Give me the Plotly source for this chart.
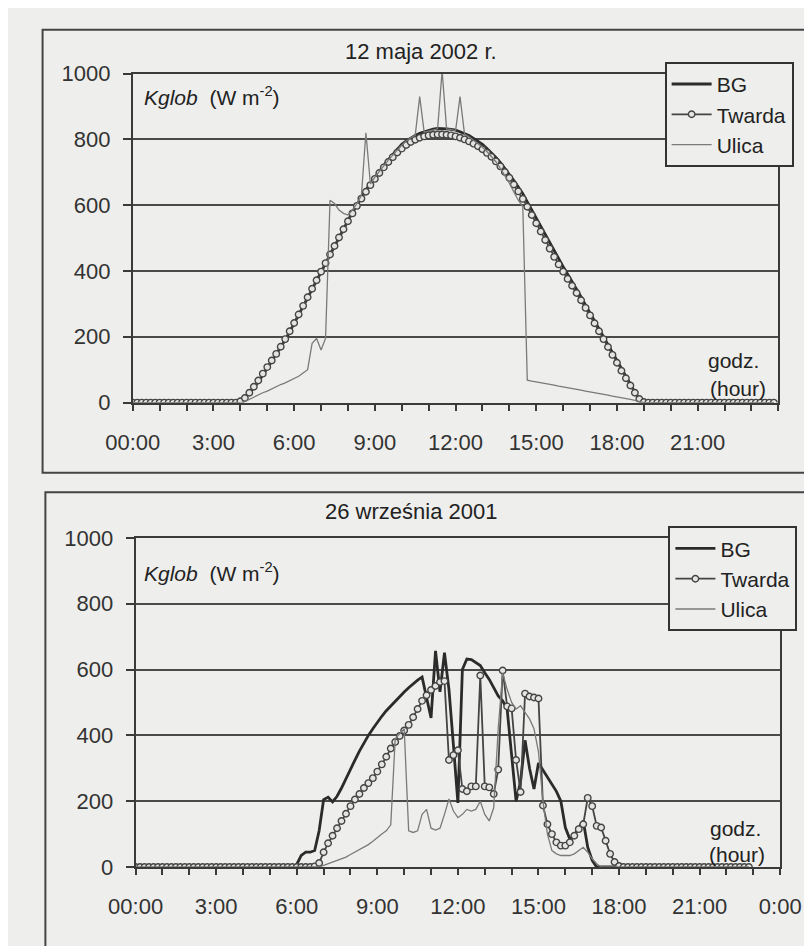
import plotly.graph_objects as go

# 10-minute time stamps (hours) for one day
times = [i / 6 for i in range(144)]

# ---- Panel 1: 12 maja 2002 r. ----
top_bg = [
    0, 0, 0, 0, 0, 0, 0, 0, 0, 0, 0, 0,
    0, 0, 0, 0, 0, 0, 0, 0, 0, 0, 0, 0,
    6, 16, 30, 45, 63, 84,
    105, 125, 145, 166, 190, 215,
    240, 266, 292, 318, 345, 371,
    398, 425, 451, 478, 504, 530,
    555, 579, 602, 625, 646, 666,
    685, 703, 721, 738, 754, 770,
    785, 795, 804, 812, 818, 823,
    828, 831, 833, 833, 832, 830,
    828, 823, 818, 812, 803, 794,
    785, 772, 759, 745, 729, 712,
    695, 675, 655, 635, 610, 585,
    560, 535, 510, 485, 461, 437,
    413, 390, 368, 345, 321, 296,
    272, 247, 223, 198, 174, 149,
    125, 101, 78, 55, 32, 10,
    0, 0, 0, 0, 0, 0,
    0, 0, 0, 0, 0, 0,
    0, 0, 0, 0, 0, 0,
    0, 0, 0, 0, 0, 0,
    0, 0, 0, 0, 0, 0,
]
top_tw = [
    0, 0, 0, 0, 0, 0, 0, 0, 0, 0, 0, 0,
    0, 0, 0, 0, 0, 0, 0, 0, 0, 0, 0, 0,
    4, 14, 30, 48, 67, 88,
    108, 128, 148, 170, 193, 217,
    242, 268, 294, 320, 346, 372,
    398, 424, 450, 476, 502, 527,
    551, 575, 598, 620, 641, 661,
    680, 698, 715, 731, 746, 760,
    772, 783, 792, 799, 805, 809,
    812, 814, 815, 815, 814, 812,
    809, 805, 800, 794, 787, 779,
    770, 759, 747, 733, 718, 701,
    683, 663, 642, 619, 595, 570,
    545, 520, 494, 468, 443, 420,
    398, 376, 355, 333, 311, 288,
    265, 241, 217, 193, 169, 145,
    121, 97, 74, 52, 30, 11,
    2, 0, 0, 0, 0, 0,
    0, 0, 0, 0, 0, 0,
    0, 0, 0, 0, 0, 0,
    0, 0, 0, 0, 0, 0,
    0, 0, 0, 0, 0, 0,
]
top_ul = [
    0, 0, 0, 0, 0, 0, 0, 0, 0, 0, 0, 0,
    0, 0, 0, 0, 0, 0, 0, 0, 0, 0, 0, 0,
    0, 3, 10, 18, 25, 30,
    35, 42, 48, 55, 60, 66,
    72, 80, 90, 100, 180, 195,
    160, 195, 615, 605, 585, 575,
    570, 585, 605, 630, 820, 665,
    685, 703, 720, 737, 752, 768,
    782, 795, 805, 812, 930, 822,
    826, 830, 832, 1008, 832, 830,
    826, 930, 816, 808, 798, 788,
    776, 763, 748, 732, 712, 690,
    667, 640, 615, 595, 68, 65,
    63, 60, 58, 55, 53, 50,
    48, 45, 43, 40, 38, 35,
    33, 30, 28, 25, 23, 20,
    18, 15, 12, 10, 7, 4,
    0, 0, 0, 0, 0, 0,
    0, 0, 0, 0, 0, 0,
    0, 0, 0, 0, 0, 0,
    0, 0, 0, 0, 0, 0,
    0, 0, 0, 0, 0, 0,
]

# ---- Panel 2: 26 września 2001 ----
bot_bg = [
    0, 0, 0, 0, 0, 0, 0, 0, 0, 0, 0, 0,
    0, 0, 0, 0, 0, 0, 0, 0, 0, 0, 0, 0,
    0, 0, 0, 0, 0, 0, 0, 0, 0, 0, 0, 0,
    8, 35, 45, 45, 50, 110,
    205, 212, 198, 215, 240, 270,
    295, 325, 352, 378, 400, 420,
    440, 458, 475, 490, 504, 517,
    532, 545, 557, 568, 577, 515,
    453, 657, 532, 651, 540, 370,
    195, 600, 632, 630, 622, 612,
    590, 570, 545, 520, 505, 480,
    340, 200, 260, 385, 300, 237,
    316, 295, 275, 255, 230, 200,
    120, 85, 95, 120, 140, 60,
    20, 0, 0, 0, 0, 0,
    0, 0, 0, 0, 0, 0,
    0, 0, 0, 0, 0, 0,
    0, 0, 0, 0, 0, 0,
    0, 0, 0, 0, 0, 0,
    0, 0, 0, 0, 0, 0,
]
bot_tw = [
    0, 0, 0, 0, 0, 0, 0, 0, 0, 0, 0, 0,
    0, 0, 0, 0, 0, 0, 0, 0, 0, 0, 0, 0,
    0, 0, 0, 0, 0, 0, 0, 0, 0, 0, 0, 0,
    0, 0, 0, 0, 2, 12,
    45, 72, 95, 118, 140, 162,
    185, 205, 222, 240, 255, 270,
    290, 312, 335, 360, 380, 398,
    415, 432, 455, 480, 505, 522,
    538, 550, 562, 565, 325, 340,
    355, 237, 230, 245, 245, 582,
    245, 242, 222, 296, 597, 488,
    482, 325, 228, 527, 518, 515,
    512, 187, 130, 100, 75, 65,
    65, 75, 95, 115, 130, 210,
    185, 125, 120, 80, 40, 15,
    3, 0, 0, 0, 0, 0,
    0, 0, 0, 0, 0, 0,
    0, 0, 0, 0, 0, 0,
    0, 0, 0, 0, 0, 0,
    0, 0, 0, 0, 0, 0,
]
bot_ul = [
    0, 0, 0, 0, 0, 0, 0, 0, 0, 0, 0, 0,
    0, 0, 0, 0, 0, 0, 0, 0, 0, 0, 0, 0,
    0, 0, 0, 0, 0, 0, 0, 0, 0, 0, 0, 0,
    0, 0, 0, 0, 0, 0,
    5, 10, 15, 20, 25, 30,
    38, 45, 52, 60, 68, 78,
    90, 100, 110, 128, 390, 405,
    420, 110, 105, 110, 160, 175,
    118, 112, 118, 160, 207, 170,
    150, 160, 175, 170, 175, 200,
    160, 140, 180, 420, 590, 540,
    500, 480, 490, 470, 450, 420,
    350, 200, 100, 50, 40, 35,
    35, 35, 40, 50, 60, 45,
    25, 10, 0, 0, 0, 0,
    0, 0, 0, 0, 0, 0,
    0, 0, 0, 0, 0, 0,
    0, 0, 0, 0, 0, 0,
    0, 0, 0, 0, 0, 0,
    0, 0, 0, 0, 0, 0,
]

series_names = ["BG", "Twarda", "Ulica"]
titles = ["12 maja 2002 r.", "26 września 2001"]
y_ticks = [0, 200, 400, 600, 800, 1000]
top_xvals = [0, 3, 6, 9, 12, 15, 18, 21]
top_xlabels = ["00:00", "3:00", "6:00", "9:00", "12:00", "15:00", "18:00", "21:00"]
bot_xvals = [0, 3, 6, 9, 12, 15, 18, 21, 24]
bot_xlabels = ["00:00", "3:00", "6:00", "9:00", "12:00", "15:00", "18:00", "21:00", "0:00"]

W, H = 812, 946
BGC = "#eeeeec"
INK = "#3a3a3a"
FONT = "Liberation Sans, Arial, sans-serif"
FS = 22


def px(x):
    return x / W


def py(y):
    return 1 - y / H


fig = go.Figure()

panels = [
    (top_bg, top_tw, top_ul, "x", "y", "legend"),
    (bot_bg, bot_tw, bot_ul, "x2", "y2", "legend2"),
]
for bg, tw, ul, xa, ya, lg in panels:
    fig.add_trace(go.Scatter(x=times, y=bg, name=series_names[0], mode="lines",
                             line=dict(color="#2b2b2b", width=2.8),
                             xaxis=xa, yaxis=ya, legend=lg))
    fig.add_trace(go.Scatter(x=times, y=tw, name=series_names[1], mode="lines+markers",
                             line=dict(color="#444444", width=1.8),
                             marker=dict(symbol="circle", size=6.5, color="#e4e4e2",
                                         line=dict(color="#444444", width=1.4)),
                             xaxis=xa, yaxis=ya, legend=lg))
    fig.add_trace(go.Scatter(x=times, y=ul, name=series_names[2], mode="lines",
                             line=dict(color="#7a7a7a", width=1.3),
                             xaxis=xa, yaxis=ya, legend=lg))

tickfont = dict(family=FONT, size=FS, color="#333")

common_x = dict(range=[0, 24], tickmode="array",
                ticks="outside", ticklen=6, tickwidth=1.5, tickcolor=INK,
                minor=dict(tickmode="linear", tick0=0, dtick=1, ticks="outside",
                           ticklen=6, tickwidth=1.5, tickcolor=INK, showgrid=False),
                showline=True, linecolor=INK, linewidth=2, mirror=True,
                showgrid=False, zeroline=False, tickfont=tickfont,
                ticklabelstandoff=13, ticklabeloverflow="allow", fixedrange=True)
common_y = dict(range=[0, 1000], tickmode="array", tickvals=y_ticks,
                ticks="outside", ticklen=8, tickwidth=1.5, tickcolor=INK,
                showline=True, linecolor=INK, linewidth=2, mirror=True,
                showgrid=True, gridcolor="#4a4a4a", gridwidth=1.6,
                zeroline=False, tickfont=tickfont, ticklabelstandoff=8,
                fixedrange=True)

legend_common = dict(xanchor="left", yanchor="top", bgcolor=BGC,
                     bordercolor="#333", borderwidth=2,
                     font=dict(family=FONT, size=21, color="#222"),
                     tracegroupgap=0, itemwidth=40)

fig.update_layout(
    width=W, height=H, autosize=False,
    margin=dict(l=0, r=0, t=0, b=0),
    paper_bgcolor=BGC, plot_bgcolor=BGC,
    xaxis=dict(domain=[px(103), px(790)], anchor="y",
               tickvals=top_xvals, ticktext=top_xlabels, **common_x),
    yaxis=dict(domain=[py(393), py(55)], anchor="x", **common_y),
    xaxis2=dict(domain=[px(106), px(792)], anchor="y2",
                tickvals=bot_xvals, ticktext=bot_xlabels, **common_x),
    yaxis2=dict(domain=[py(870), py(532)], anchor="x2", **common_y),
    legend=dict(x=px(669), y=py(43), **legend_common),
    legend2=dict(x=px(673), y=py(520), **legend_common),
    showlegend=True,
)

# outer frames (extend past the right/bottom edges as in the scan)
fig.add_shape(type="rect", xref="paper", yref="paper",
              x0=px(7), x1=px(840), y0=py(465), y1=py(10),
              line=dict(color="#444", width=2), layer="below")
fig.add_shape(type="rect", xref="paper", yref="paper",
              x0=px(10), x1=px(840), y0=py(980), y1=py(485),
              line=dict(color="#444", width=2), layer="below")

annots = [
    (410, 32, titles[0], "center", FS),
    (399, 505, titles[1], "center", FS),
    (113, 78, "<i>Kglob</i>  (W m<sup>-2</sup>)", "left", 21),
    (113, 567, "<i>Kglob</i>  (W m<sup>-2</sup>)", "left", 21),
    (742, 350, "godz.", "center", 21),
    (747, 378, "(hour)", "center", 21),
    (744, 830, "godz.", "center", 21),
    (746, 857, "(hour)", "center", 21),
]
for x, y, t, anc, fs in annots:
    fig.add_annotation(x=px(x), y=py(y), xref="paper", yref="paper",
                       text=t, showarrow=False, xanchor=anc, yanchor="middle",
                       font=dict(family=FONT, size=fs, color="#222"))

fig.write_html("out.html")
